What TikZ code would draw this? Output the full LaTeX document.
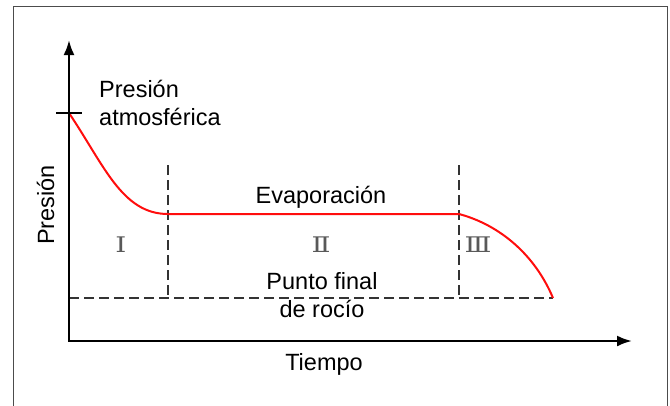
\documentclass[tikz,border=0pt]{standalone}
\usepackage{fontspec}
\setmainfont{Liberation Sans}
\newfontfamily\romfont[FakeStretch=1.3]{DejaVu Serif}
\usetikzlibrary{arrows.meta,positioning}
\tikzset{%
	axis/.style    = {line width=2.4pt, {Latex[length=15pt,width=11pt]}-{Latex[length=15pt,width=11pt]}}, % axes
	curve/.style   = {line width=2pt, red!95!white}, % pressure curve
	guide/.style   = {line width=1.4pt, black!80, dash pattern=on 10pt off 5pt}, % stage limits
	label/.style   = {inner sep=0pt, font=\fontsize{23.5}{28}\selectfont},
	numeral/.style = {inner sep=0pt, text=black!65, font=\romfont\fontsize{21.5}{24}\selectfont},
}
\begin{document}
\begin{tikzpicture}[x=1pt,y=-1pt]
	\useasboundingbox (0,0) rectangle (670,405);
	\draw[line width=1pt, black!70] (13,412) -- (13,6) -- (667,6) -- (667,412);
	
	\coordinate (O) at (69,341);
	\coordinate (ytop) at (69,40);
	\coordinate (xend) at (632,341);
	\coordinate (patm) at (69,113);
	\coordinate (tickL) at (56,113);
	\coordinate (tickR) at (82,113);
	\coordinate (e1) at (168,214);
	\coordinate (e2) at (459,214);
	\coordinate (dew) at (553,298);
	\coordinate (dew0) at (69,298);
	\coordinate (b1) at (168,165);
	\coordinate (b2) at (459,165);
	\coordinate (f1) at (168,298);
	\coordinate (f2) at (459,298);
	
	% stage limits
	\draw[guide] (dew0) -- (dew);
	\draw[guide] (b1) -- (f1);
	\draw[guide] (b2) -- (f2);
	
	% pressure against time
	\draw[curve] (patm) .. controls (104,165) and (122,214) .. (e1) -- (e2)
	             .. controls (500,225) and (535,255) .. (dew);
	
	\draw[axis] (ytop) -- (O) -- (xend);
	\draw[line width=1.2pt] (tickL) -- (tickR);
	
	\node[label, align=left, anchor=north west] (atm) at (99,80) {Presión\\atmosférica};
	\node[label, anchor=base] (evap) at (321,203) {Evaporación};
	\node[label, align=center, anchor=north] (rocio) at (322,272) {Punto final\\de rocío};
	\node[label, anchor=base] (tiempo) at (324,370) {Tiempo};
	\node[label, rotate=90, anchor=base] (presion) at (54,205) {Presión};
	
	\node[numeral] (s1) at (121,245) {Ⅰ};
	\node[numeral] (s2) at (321,245) {Ⅱ};
	\node[numeral] (s3) at (478,245) {Ⅲ};
\end{tikzpicture}
\end{document}
